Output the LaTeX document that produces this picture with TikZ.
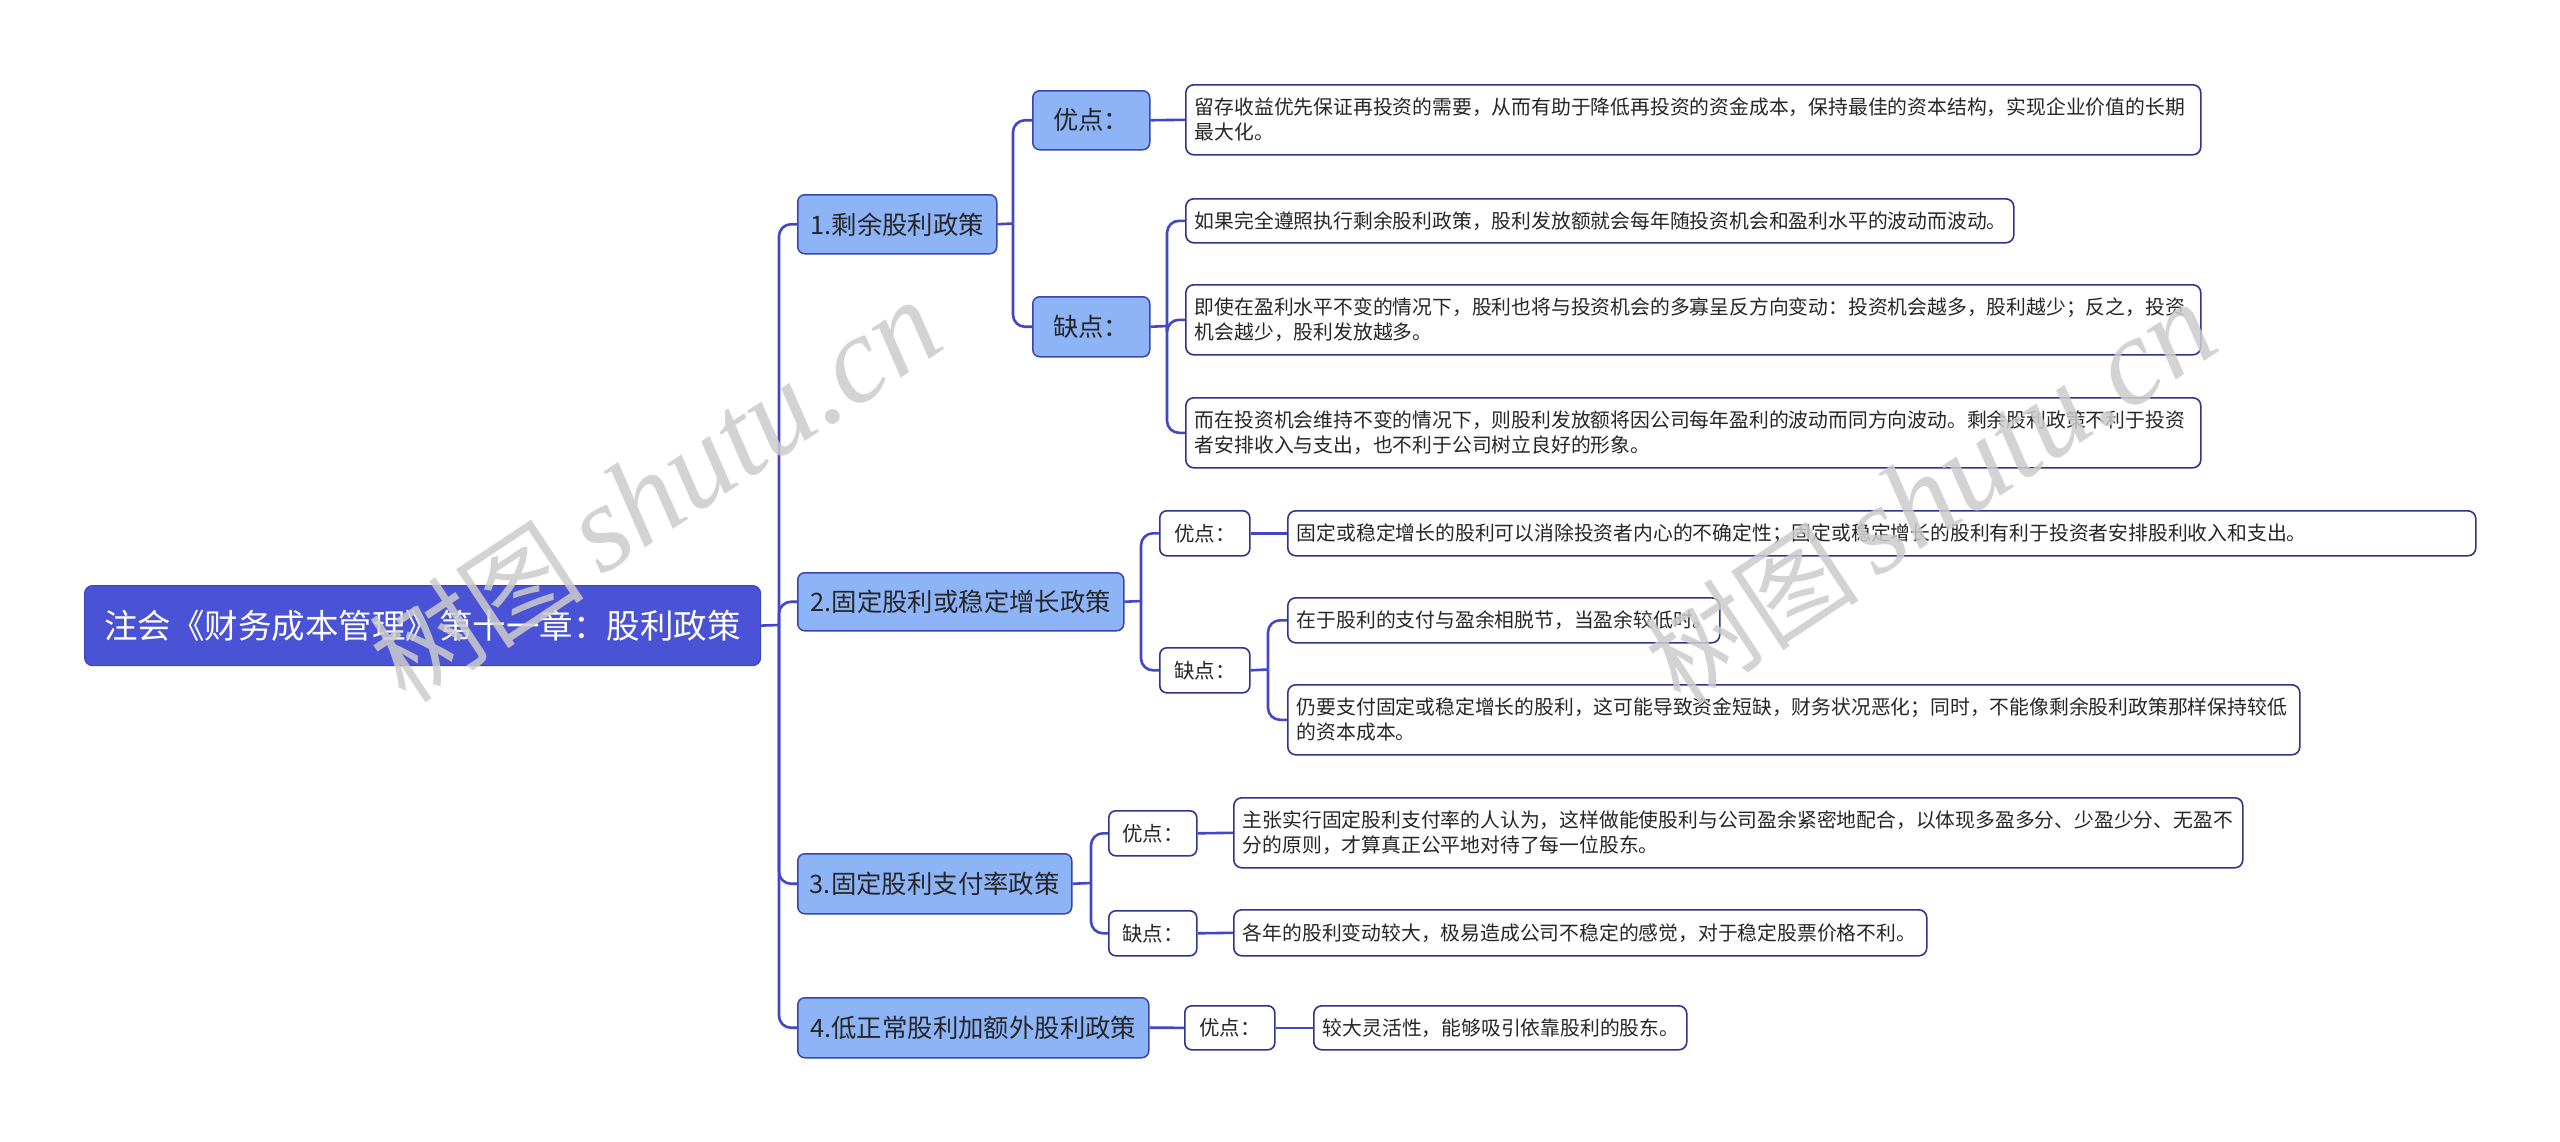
\documentclass[tikz,border=0pt]{standalone}
\usepackage{fontspec}
\setmainfont{Noto Sans CJK SC}
\newfontfamily\wmserif{Liberation Serif}
\definecolor{rootc}{HTML}{4A52D6}
\definecolor{lonec}{HTML}{8DB4F7}
\definecolor{lineblue}{HTML}{4248C4}
\definecolor{bordc}{HTML}{2E3590}
\definecolor{loneb}{HTML}{3A44B0}
\definecolor{txt}{HTML}{262626}
\begin{document}
\begin{tikzpicture}[x=1pt,y=-1pt,
  rootbox/.style={rounded corners=8pt, fill=rootc, draw=rootc!85!black, line width=1.2pt, text=white,
    font=\fontsize{33.5}{40}\selectfont, inner sep=0pt, anchor=north west, align=center},
  lvone/.style={rounded corners=7pt, fill=lonec, draw=loneb, line width=1.5pt, text=txt,
    font=\fontsize{25.4}{30}\selectfont, inner sep=0pt, anchor=north west, align=center},
  lvtwo/.style={rounded corners=7pt, fill=white, draw=bordc, line width=1.6pt, text=txt,
    font=\fontsize{20.5}{25}\selectfont, inner sep=0pt, anchor=north west, align=center},
  leaf/.style={rounded corners=8pt, fill=white, draw=bordc, line width=1.6pt, text=txt,
    font=\fontsize{19.8}{25}\selectfont, align=left, inner xsep=9pt, inner ysep=0pt, anchor=north west},
  link/.style={draw=lineblue, line width=2.6pt, rounded corners=12pt},
  wmark/.style={text=black!20, opacity=0.85, rotate=33.5}
]
\useasboundingbox (0,0) rectangle (2560,1141);
\fill[white] (0,0) rectangle (2560,1141);

% root
\node[rootbox, minimum width=676pt, minimum height=80pt] (root) at (84,585) {注会《财务成本管理》第十一章：股利政策};

% level one
\node[lvone, minimum width=199pt, minimum height=59pt] (La) at (797,194) {1.剩余股利政策};
\node[lvone, minimum width=326pt, minimum height=58pt] (Lb) at (797,572) {2.固定股利或稳定增长政策};
\node[lvone, minimum width=274pt, minimum height=60pt] (Lc) at (797,853) {3.固定股利支付率政策};
\node[lvone, minimum width=351pt, minimum height=60pt] (Ld) at (797,997) {4.低正常股利加额外股利政策};

% level two
\node[lvone, minimum width=117pt, minimum height=59pt] (pa) at (1032,90) {优点：};
\node[lvone, minimum width=117pt, minimum height=60pt] (ma) at (1032,296) {缺点：};
\node[lvtwo, minimum width=90pt, minimum height=45pt] (pb) at (1159,510) {优点：};
\node[lvtwo, minimum width=90pt, minimum height=45pt] (mb) at (1159,647) {缺点：};
\node[lvtwo, minimum width=88pt, minimum height=45pt] (pc) at (1108,810) {优点：};
\node[lvtwo, minimum width=88pt, minimum height=45pt] (mc) at (1108,910) {缺点：};
\node[lvtwo, minimum width=90pt, minimum height=44pt] (pd) at (1184,1005) {优点：};

% leaves
\node[leaf, text width=997pt, minimum height=70pt] (a1) at (1185,84) {留存收益优先保证再投资的需要，从而有助于降低再投资的资金成本，保持最佳的资本结构，实现企业价值的长期\\最大化。};
\node[leaf, text width=810pt, minimum height=44pt] (b1) at (1185,198) {如果完全遵照执行剩余股利政策，股利发放额就会每年随投资机会和盈利水平的波动而波动。};
\node[leaf, text width=997pt, minimum height=70pt] (b2) at (1185,284) {即使在盈利水平不变的情况下，股利也将与投资机会的多寡呈反方向变动：投资机会越多，股利越少；反之，投资\\机会越少，股利发放越多。};
\node[leaf, text width=997pt, minimum height=70pt] (b3) at (1185,397) {而在投资机会维持不变的情况下，则股利发放额将因公司每年盈利的波动而同方向波动。剩余股利政策不利于投资\\者安排收入与支出，也不利于公司树立良好的形象。};
\node[leaf, text width=1170pt, minimum height=45pt] (a2) at (1287,510) {固定或稳定增长的股利可以消除投资者内心的不确定性；固定或稳定增长的股利有利于投资者安排股利收入和支出。};
\node[leaf, text width=414pt, minimum height=45pt] (c1) at (1287,597) {在于股利的支付与盈余相脱节，当盈余较低时。};
\node[leaf, text width=994pt, minimum height=70pt] (c2) at (1287,684) {仍要支付固定或稳定增长的股利，这可能导致资金短缺，财务状况恶化；同时，不能像剩余股利政策那样保持较低\\的资本成本。};
\node[leaf, text width=991pt, minimum height=70pt] (a3) at (1233,797) {主张实行固定股利支付率的人认为，这样做能使股利与公司盈余紧密地配合，以体现多盈多分、少盈少分、无盈不\\分的原则，才算真正公平地对待了每一位股东。};
\node[leaf, text width=675pt, minimum height=46pt] (d3) at (1233,909) {各年的股利变动较大，极易造成公司不稳定的感觉，对于稳定股票价格不利。};
\node[leaf, text width=355pt, minimum height=44pt] (a4) at (1313,1005) {较大灵活性，能够吸引依靠股利的股东。};

% junction points
\coordinate (tR) at (779,625);
\coordinate (tA) at (1013,223.5);
\coordinate (tB) at (1141,601);
\coordinate (tC) at (1091,883);
\coordinate (tMa) at (1167,326);
\coordinate (tMb) at (1268,669.5);

% connectors
\draw[link] (root.east) -- (tR);
\draw[link] (tR) |- (La.west);
\draw[link] (tR) |- (Lb.west);
\draw[link] (tR) |- (Lc.west);
\draw[link] (tR) |- (Ld.west);

\draw[link] (La.east) -- (tA);
\draw[link] (tA) |- (pa.west);
\draw[link] (tA) |- (ma.west);
\draw[link] (pa.east) -- (a1.west);
\draw[link] (ma.east) -- (tMa);
\draw[link] (tMa) |- (b1.west);
\draw[link] (tMa) |- (b2.west);
\draw[link] (tMa) |- (b3.west);

\draw[link] (Lb.east) -- (tB);
\draw[link] (tB) |- (pb.west);
\draw[link] (tB) |- (mb.west);
\draw[link] (pb.east) -- (a2.west);
\draw[link] (mb.east) -- (tMb);
\draw[link] (tMb) |- (c1.west);
\draw[link] (tMb) |- (c2.west);

\draw[link] (Lc.east) -- (tC);
\draw[link] (tC) |- (pc.west);
\draw[link] (tC) |- (mc.west);
\draw[link] (pc.east) -- (a3.west);
\draw[link] (mc.east) -- (d3.west);

\draw[link] (Ld.east) -- (pd.west);
\draw[link] (pd.east) -- (a4.west);

% watermarks
\node[wmark] (wm1) at (655,492) {\fontsize{108}{108}\selectfont 树图\,{\wmserif\itshape\fontsize{124}{124}\selectfont shutu.cn}};
\node[wmark] (wm2) at (1930,494) {\fontsize{108}{108}\selectfont 树图\,{\wmserif\itshape\fontsize{124}{124}\selectfont shutu.cn}};
\end{tikzpicture}
\end{document}
